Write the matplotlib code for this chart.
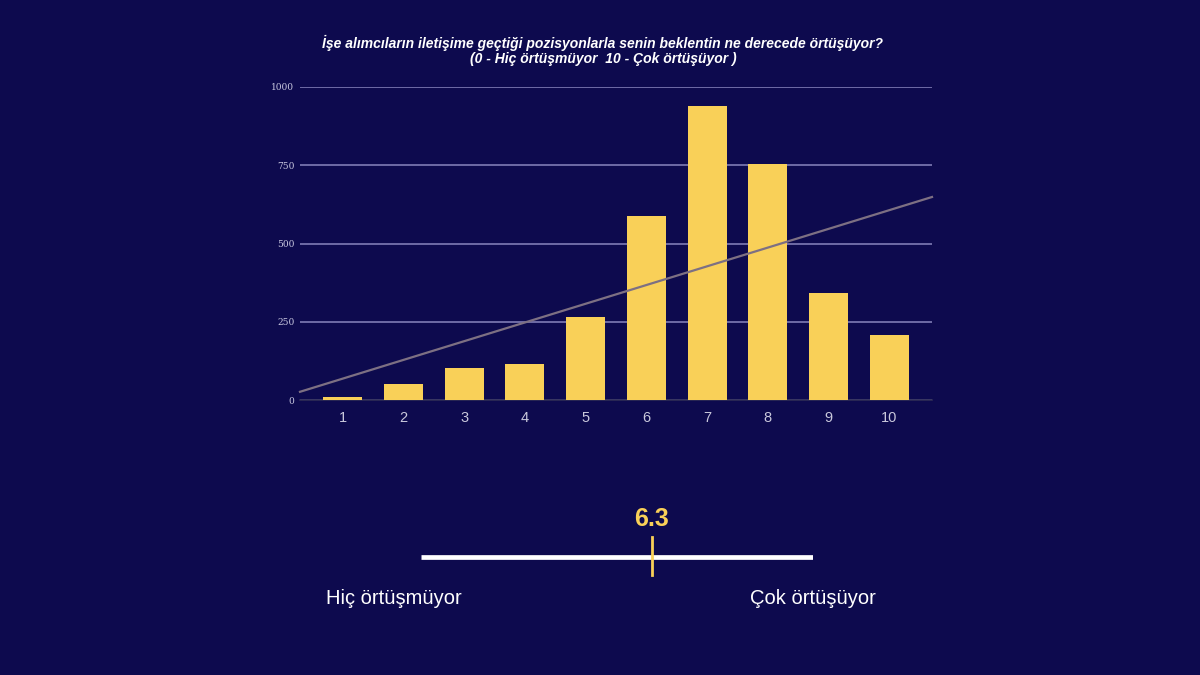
import numpy as np
import matplotlib
matplotlib.use("Agg")
from matplotlib import pyplot as plt

# puanlar ve kişi sayıları
puanlar = [1, 2, 3, 4, 5, 6, 7, 8, 9, 10]
kisi_sayisi = [10, 51, 102, 115, 265, 588, 939, 754, 342, 208]
y_ticks = [0, 250, 500, 750, 1000]
ortalama = 6.3
baslik = ("İşe alımcıların iletişime geçtiği pozisyonlarla senin beklentin ne derecede örtüşüyor?\n"
          "(0 - Hiç örtüşmüyor  10 - Çok örtüşüyor )")
sol_etiket = "Hiç örtüşmüyor"
sag_etiket = "Çok örtüşüyor"

BG = "#0d0a4e"
YELLOW = "#f9d058"

plt.rcParams['font.family'] = ['Liberation Sans', 'DejaVu Sans']

fig = plt.figure(figsize=(12, 6.75), dpi=100, facecolor=BG)

# ana grafik
ax = fig.add_axes([300 / 1200, 1 - 400 / 675, 632 / 1200, 313 / 675])
ax.set_facecolor(BG)
ax.bar(puanlar, kisi_sayisi, width=0.64, color=YELLOW, zorder=3)

ax.set_xlim(0.3, 10.7)
ax.set_ylim(0, 1000)
ax.set_yticks(y_ticks)
ax.set_xticks(puanlar)
ax.yaxis.grid(True, color="#7673ad", linewidth=1.3, zorder=0)
ax.set_axisbelow(True)
for s in ["top", "right", "left"]:
    ax.spines[s].set_visible(False)
ax.spines["bottom"].set_color("#2e2c55")
ax.spines["bottom"].set_linewidth(1.2)
ax.tick_params(axis="y", length=0, labelsize=6.5, labelcolor="#c9c8e0", pad=4)
ax.tick_params(axis="x", length=0, labelsize=10.5, labelcolor="#c9c8dc", pad=8)
for lbl in ax.get_yticklabels():
    lbl.set_family("DejaVu Serif")

# trend çizgisi (doğrusal)
m, b = np.polyfit(puanlar, kisi_sayisi, 1)
xs = np.array(ax.get_xlim())
ax.plot(xs, m * xs + b, color="#7d7083", linewidth=1.6, zorder=4, clip_on=False)

fig.text(603 / 1200, 1 - 50.5 / 675, baslik, ha="center", va="center", color="white",
         fontsize=10, fontweight="bold", fontstyle="italic", linespacing=1.1)

# ortalama çubuğu
ax2 = fig.add_axes([421 / 1200, 1 - 600 / 675, 392 / 1200, 100 / 675])
ax2.set_facecolor("none")
ax2.set_xlim(1, 10)
ax2.set_ylim(0, 100)
ax2.axis("off")
ax2.plot([1, 10], [43, 43], color="white", linewidth=3.4, solid_capstyle="butt")
ax2.plot([ortalama, ortalama], [25, 63], color=YELLOW, linewidth=2)
ax2.text(ortalama, 81, f"{ortalama}", ha="center", va="center", color=YELLOW,
         fontsize=18, fontweight="bold")

fig.text(394 / 1200, 1 - 599 / 675, sol_etiket, ha="center", va="center",
         color="white", fontsize=14.5)
fig.text(813 / 1200, 1 - 599 / 675, sag_etiket, ha="center", va="center",
         color="white", fontsize=14.5)

fig.savefig("out.png", dpi=100, facecolor=BG)
